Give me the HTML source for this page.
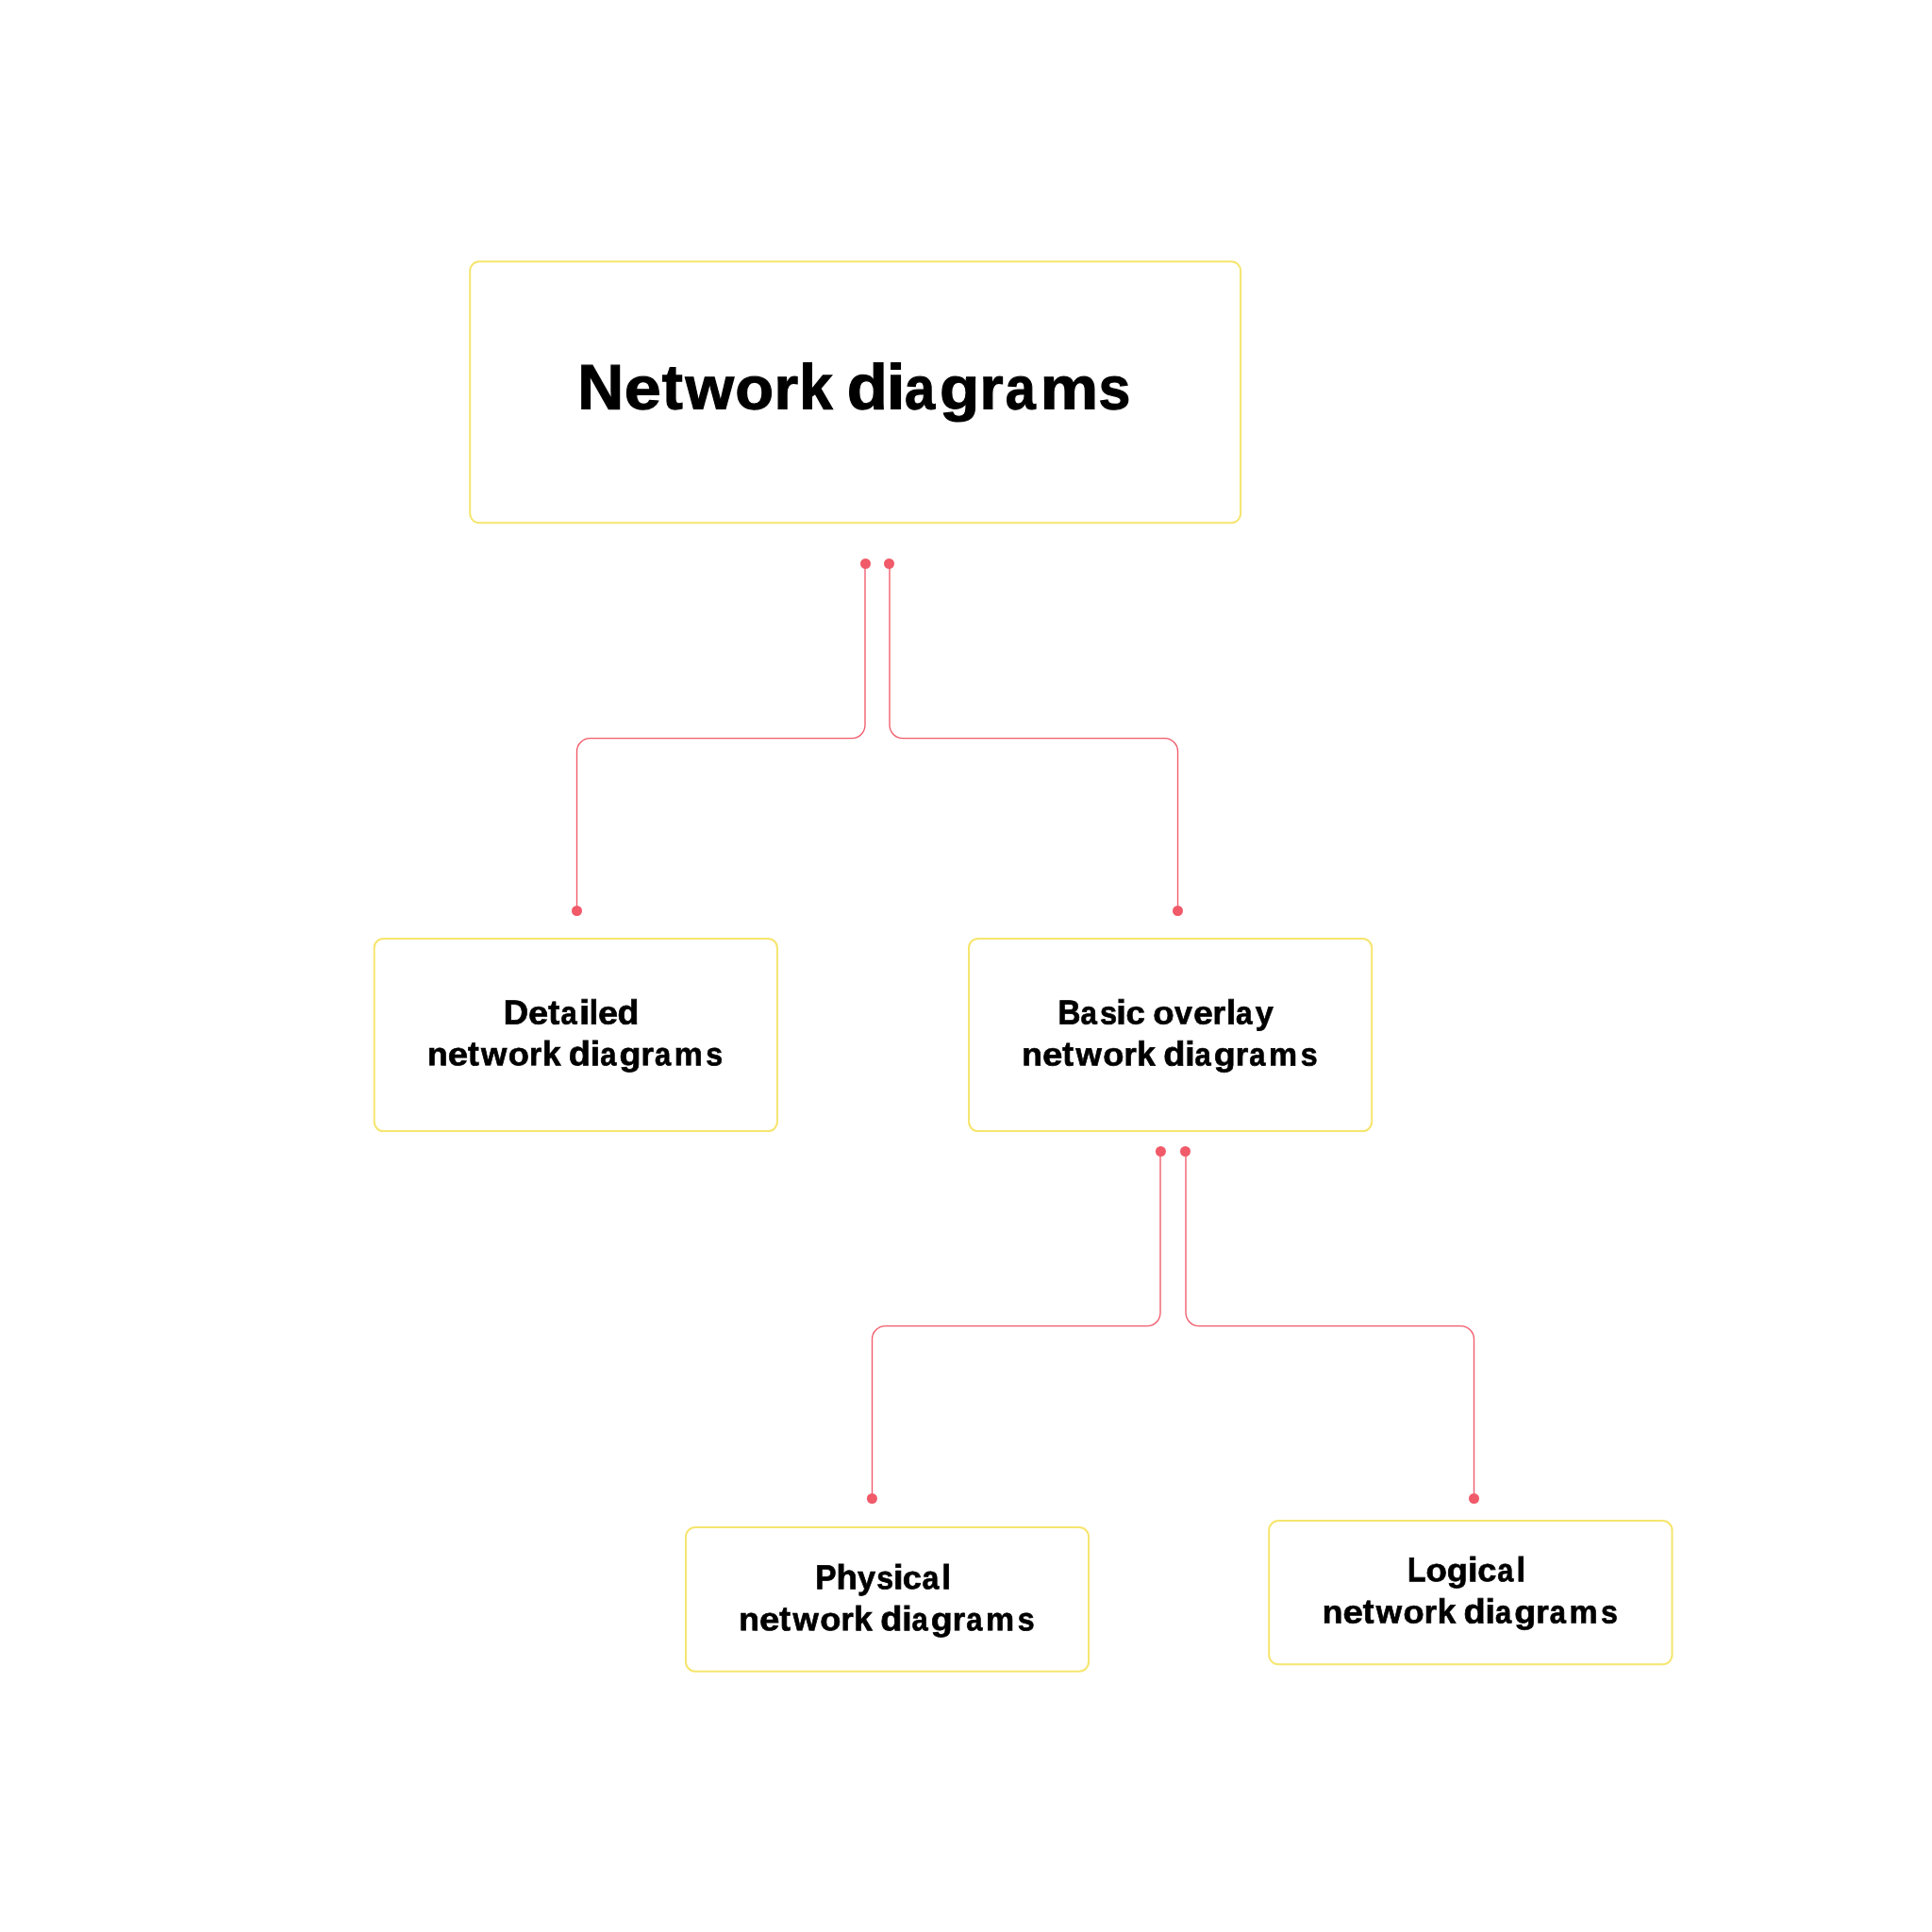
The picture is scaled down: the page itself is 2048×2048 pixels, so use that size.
<!DOCTYPE html>
<html lang="en"><head><meta charset="utf-8"><title>Network diagrams</title>
<style>html,body{margin:0;padding:0;background:#fff;width:2048px;height:2048px;overflow:hidden}svg{display:block;will-change:transform}text{font-family:"Liberation Sans",sans-serif;font-weight:700;text-rendering:geometricPrecision;fill:#000;stroke:#000}</style></head><body>
<svg width="2048" height="2048" viewBox="0 0 2048 2048" role="img" aria-label="Network diagrams: Detailed network diagrams; Basic overlay network diagrams, which split into Physical network diagrams and Logical network diagrams">
<rect x="0" y="0" width="2048" height="2048" fill="#fff"/>
<g fill="none" stroke="#F6E56E" stroke-width="2">
<rect x="498.2" y="277.2" width="816.9" height="277.1" rx="10"/>
<rect x="396.7" y="994.9" width="427.2" height="204.2" rx="10"/>
<rect x="1027.0" y="994.9" width="427.2" height="204.2" rx="10"/>
<rect x="727.0" y="1619.1" width="427.0" height="152.6" rx="10"/>
<rect x="1345.2" y="1612.0" width="427.3" height="152.3" rx="10"/>
</g>
<g fill="none" stroke="#F05A69" stroke-width="1.35">
<path d="M917 597.5V768.6A14 14 0 0 1 903 782.6H625.5A14 14 0 0 0 611.5 796.6V965.5"/>
<path d="M943 597.5V768.6A14 14 0 0 0 957 782.6H1234.5A14 14 0 0 1 1248.5 796.6V965.5"/>
<path d="M1230 1220.5V1391.6A14 14 0 0 1 1216 1405.6H938.5A14 14 0 0 0 924.5 1419.6V1588.5"/>
<path d="M1257 1220.5V1391.6A14 14 0 0 0 1271 1405.6H1548.5A14 14 0 0 1 1562.5 1419.6V1588.5"/>
</g>
<g fill="#F05A69">
<circle cx="917.5" cy="597.5" r="5.5"/>
<circle cx="942.5" cy="597.5" r="5.5"/>
<circle cx="611.5" cy="965.5" r="5.5"/>
<circle cx="1248.5" cy="965.5" r="5.5"/>
<circle cx="1230.4" cy="1220.5" r="5.5"/>
<circle cx="1256.5" cy="1220.5" r="5.5"/>
<circle cx="924.4" cy="1588.5" r="5.5"/>
<circle cx="1562.5" cy="1588.5" r="5.5"/>
</g>
<g font-size="67.38" stroke-width="1.2" aria-label="Network diagrams">
<text transform="matrix(1.0056 0.001 0 1.0 612.13 433.46)">N</text>
<text transform="matrix(1.0401 0.001 0 0.948 661.85 433.46)">e</text>
<text transform="matrix(0.9844 0.001 0 1.0 701.63 433.46)">t</text>
<text transform="matrix(0.9844 0.001 0 0.948 726.48 433.46)">w</text>
<text transform="matrix(0.9921 0.001 0 0.948 779.28 433.46)">o</text>
<text transform="matrix(0.9790 0.001 0 0.948 820.54 433.46)">r</text>
<text transform="matrix(0.9432 0.001 0 1.0 847.23 433.46)">k</text>
<text transform="matrix(1.0497 0.001 0 1.0 897.63 433.46)">d</text>
<text transform="matrix(1.0531 0.001 0 1.0 939.68 433.46)">i</text>
<text transform="matrix(0.8565 0.001 0 0.948 959.02 433.46)">a</text>
<text transform="matrix(1.0260 0.001 0 0.948 995.88 433.46)">g</text>
<text transform="matrix(0.9563 0.001 0 0.948 1038.43 433.46)">r</text>
<text transform="matrix(0.8538 0.001 0 0.948 1065.63 433.46)">a</text>
<text transform="matrix(1.0249 0.001 0 0.948 1102.66 433.46)">m</text>
<text transform="matrix(0.9034 0.001 0 0.948 1164.40 433.46)">s</text>
</g>
<g font-size="36.27" stroke-width="0.75" aria-label="Detailed">
<text transform="matrix(1.0090 0.001 0 1.0 533.83 1085.425)">D</text>
<text transform="matrix(1.0457 0.001 0 0.948 559.91 1085.425)">e</text>
<text transform="matrix(0.9964 0.001 0 1.0 581.13 1085.425)">t</text>
<text transform="matrix(0.8512 0.001 0 0.948 594.41 1085.425)">a</text>
<text transform="matrix(1.1176 0.001 0 1.0 613.89 1085.425)">i</text>
<text transform="matrix(0.9255 0.001 0 1.0 624.70 1085.425)">l</text>
<text transform="matrix(1.0402 0.001 0 0.948 633.92 1085.425)">e</text>
<text transform="matrix(1.0301 0.001 0 1.0 654.55 1085.425)">d</text>
</g>
<g font-size="36.27" stroke-width="0.75" aria-label="Basic overlay">
<text transform="matrix(0.9139 0.001 0 1.0 1121.43 1085.425)">B</text>
<text transform="matrix(0.8612 0.001 0 0.948 1145.51 1085.425)">a</text>
<text transform="matrix(0.8976 0.001 0 0.948 1165.99 1085.425)">s</text>
<text transform="matrix(1.0478 0.001 0 1.0 1183.34 1085.425)">i</text>
<text transform="matrix(1.0086 0.001 0 0.948 1193.45 1085.425)">c</text>
<text transform="matrix(1.0114 0.001 0 0.948 1222.35 1085.425)">o</text>
<text transform="matrix(0.9360 0.001 0 0.948 1245.12 1085.425)">v</text>
<text transform="matrix(1.0293 0.001 0 0.948 1264.93 1085.425)">e</text>
<text transform="matrix(0.9644 0.001 0 0.948 1285.46 1085.425)">r</text>
<text transform="matrix(1.0128 0.001 0 1.0 1299.91 1085.425)">l</text>
<text transform="matrix(0.8711 0.001 0 0.948 1309.90 1085.425)">a</text>
<text transform="matrix(0.9441 0.001 0 0.948 1330.69 1085.425)">y</text>
</g>
<g font-size="36.27" stroke-width="0.75" aria-label="Physical">
<text transform="matrix(0.9212 0.001 0 1.0 864.31 1684.325)">P</text>
<text transform="matrix(1.0153 0.001 0 1.0 886.61 1684.325)">h</text>
<text transform="matrix(0.9441 0.001 0 0.948 909.09 1684.325)">y</text>
<text transform="matrix(0.8866 0.001 0 0.948 929.20 1684.325)">s</text>
<text transform="matrix(1.0478 0.001 0 1.0 946.94 1684.325)">i</text>
<text transform="matrix(0.9977 0.001 0 0.948 956.86 1684.325)">c</text>
<text transform="matrix(0.8860 0.001 0 0.948 977.39 1684.325)">a</text>
<text transform="matrix(0.9779 0.001 0 1.0 998.19 1684.325)">l</text>
</g>
<g font-size="36.27" stroke-width="0.75" aria-label="Logical">
<text transform="matrix(0.8780 0.001 0 1.0 1491.90 1676.325)">L</text>
<text transform="matrix(1.0114 0.001 0 0.948 1511.45 1676.325)">o</text>
<text transform="matrix(0.9952 0.001 0 0.948 1533.79 1676.325)">g</text>
<text transform="matrix(1.0478 0.001 0 1.0 1556.04 1676.325)">i</text>
<text transform="matrix(0.9977 0.001 0 0.948 1566.16 1676.325)">c</text>
<text transform="matrix(0.8462 0.001 0 0.948 1587.32 1676.325)">a</text>
<text transform="matrix(0.9604 0.001 0 1.0 1607.53 1676.325)">l</text>
</g>
<g font-size="36.27" stroke-width="0.75" aria-label="network diagrams">
<text transform="matrix(0.9762 0.001 0 0.948 453.00 1129.325)">n</text>
<text transform="matrix(1.0567 0.001 0 0.948 474.70 1129.325)">e</text>
<text transform="matrix(0.9713 0.001 0 1.0 495.93 1129.325)">t</text>
<text transform="matrix(0.9678 0.001 0 0.948 510.07 1129.325)">w</text>
<text transform="matrix(1.0014 0.001 0 0.948 538.86 1129.325)">o</text>
<text transform="matrix(0.9392 0.001 0 0.948 561.11 1129.325)">r</text>
<text transform="matrix(0.9661 0.001 0 1.0 575.02 1129.325)">k</text>
<text transform="matrix(1.0459 0.001 0 1.0 602.84 1129.325)">d</text>
<text transform="matrix(1.0303 0.001 0 1.0 625.78 1129.325)">i</text>
<text transform="matrix(0.8512 0.001 0 0.948 636.21 1129.325)">a</text>
<text transform="matrix(1.0373 0.001 0 0.948 656.45 1129.325)">g</text>
<text transform="matrix(0.9560 0.001 0 0.948 679.47 1129.325)">r</text>
<text transform="matrix(0.8512 0.001 0 0.948 694.01 1129.325)">a</text>
<text transform="matrix(0.9309 0.001 0 0.948 714.72 1129.325)">m</text>
<text transform="matrix(0.8866 0.001 0 0.948 748.30 1129.325)">s</text>
</g>
<g font-size="36.27" stroke-width="0.75" aria-label="network diagrams">
<text transform="matrix(0.9762 0.001 0 0.948 1083.35 1129.425)">n</text>
<text transform="matrix(1.0567 0.001 0 0.948 1105.05 1129.425)">e</text>
<text transform="matrix(0.9713 0.001 0 1.0 1126.28 1129.425)">t</text>
<text transform="matrix(0.9678 0.001 0 0.948 1140.42 1129.425)">w</text>
<text transform="matrix(1.0014 0.001 0 0.948 1169.21 1129.425)">o</text>
<text transform="matrix(0.9392 0.001 0 0.948 1191.46 1129.425)">r</text>
<text transform="matrix(0.9661 0.001 0 1.0 1205.37 1129.425)">k</text>
<text transform="matrix(1.0459 0.001 0 1.0 1233.19 1129.425)">d</text>
<text transform="matrix(1.0303 0.001 0 1.0 1256.13 1129.425)">i</text>
<text transform="matrix(0.8512 0.001 0 0.948 1266.56 1129.425)">a</text>
<text transform="matrix(1.0373 0.001 0 0.948 1286.80 1129.425)">g</text>
<text transform="matrix(0.9560 0.001 0 0.948 1309.82 1129.425)">r</text>
<text transform="matrix(0.8512 0.001 0 0.948 1324.36 1129.425)">a</text>
<text transform="matrix(0.9309 0.001 0 0.948 1345.07 1129.425)">m</text>
<text transform="matrix(0.8866 0.001 0 0.948 1378.65 1129.425)">s</text>
</g>
<g font-size="36.27" stroke-width="0.75" aria-label="network diagrams">
<text transform="matrix(0.9762 0.001 0 0.948 783.35 1728.325)">n</text>
<text transform="matrix(1.0567 0.001 0 0.948 805.05 1728.325)">e</text>
<text transform="matrix(0.9713 0.001 0 1.0 826.28 1728.325)">t</text>
<text transform="matrix(0.9678 0.001 0 0.948 840.42 1728.325)">w</text>
<text transform="matrix(1.0014 0.001 0 0.948 869.21 1728.325)">o</text>
<text transform="matrix(0.9392 0.001 0 0.948 891.46 1728.325)">r</text>
<text transform="matrix(0.9661 0.001 0 1.0 905.37 1728.325)">k</text>
<text transform="matrix(1.0459 0.001 0 1.0 933.19 1728.325)">d</text>
<text transform="matrix(1.0303 0.001 0 1.0 956.13 1728.325)">i</text>
<text transform="matrix(0.8512 0.001 0 0.948 966.56 1728.325)">a</text>
<text transform="matrix(1.0373 0.001 0 0.948 986.80 1728.325)">g</text>
<text transform="matrix(0.9560 0.001 0 0.948 1009.82 1728.325)">r</text>
<text transform="matrix(0.8512 0.001 0 0.948 1024.36 1728.325)">a</text>
<text transform="matrix(0.9309 0.001 0 0.948 1045.07 1728.325)">m</text>
<text transform="matrix(0.8866 0.001 0 0.948 1078.65 1728.325)">s</text>
</g>
<g font-size="36.27" stroke-width="0.75" aria-label="network diagrams">
<text transform="matrix(0.9762 0.001 0 0.948 1401.75 1720.375)">n</text>
<text transform="matrix(1.0567 0.001 0 0.948 1423.45 1720.375)">e</text>
<text transform="matrix(0.9713 0.001 0 1.0 1444.68 1720.375)">t</text>
<text transform="matrix(0.9678 0.001 0 0.948 1458.82 1720.375)">w</text>
<text transform="matrix(1.0014 0.001 0 0.948 1487.61 1720.375)">o</text>
<text transform="matrix(0.9392 0.001 0 0.948 1509.86 1720.375)">r</text>
<text transform="matrix(0.9661 0.001 0 1.0 1523.77 1720.375)">k</text>
<text transform="matrix(1.0459 0.001 0 1.0 1551.59 1720.375)">d</text>
<text transform="matrix(1.0303 0.001 0 1.0 1574.53 1720.375)">i</text>
<text transform="matrix(0.8512 0.001 0 0.948 1584.96 1720.375)">a</text>
<text transform="matrix(1.0373 0.001 0 0.948 1605.20 1720.375)">g</text>
<text transform="matrix(0.9560 0.001 0 0.948 1628.22 1720.375)">r</text>
<text transform="matrix(0.8512 0.001 0 0.948 1642.76 1720.375)">a</text>
<text transform="matrix(0.9309 0.001 0 0.948 1663.47 1720.375)">m</text>
<text transform="matrix(0.8866 0.001 0 0.948 1697.05 1720.375)">s</text>
</g>
</svg></body></html>
